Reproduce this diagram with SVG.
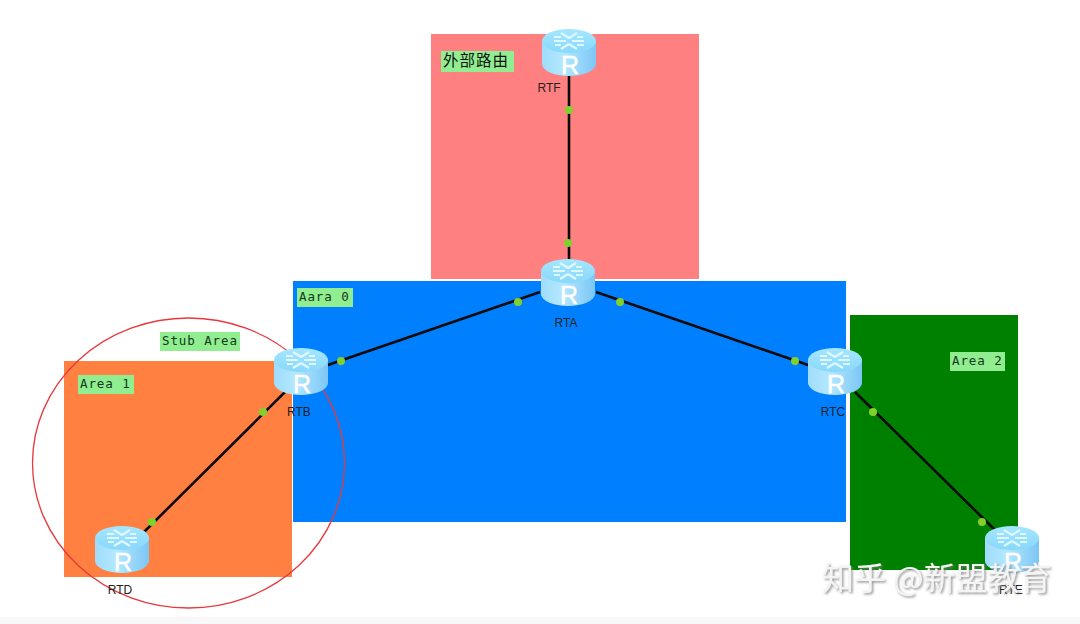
<svg xmlns="http://www.w3.org/2000/svg" width="1080" height="624" viewBox="0 0 1080 624">
<defs>
<linearGradient id="body" x1="0" y1="0" x2="1" y2="0">
<stop offset="0" stop-color="#9fdcfb"/><stop offset="0.4" stop-color="#b4e8ff"/><stop offset="1" stop-color="#7cc6f5"/>
</linearGradient>
<linearGradient id="top" x1="0" y1="0" x2="0" y2="1">
<stop offset="0" stop-color="#a6e6ff"/><stop offset="1" stop-color="#88d8fb"/>
</linearGradient>
<filter id="shadow" x="-5%" y="-20%" width="110%" height="140%"><feDropShadow dx="1.500" dy="1.500" stdDeviation="0.800" flood-color="#777" flood-opacity="0.800"/></filter>
<g id="router">
<path d="M-27,-11 V12 A27,12 0 0 0 27,12 V-11 Z" fill="url(#body)"/>
<ellipse cx="0" cy="-11" rx="27" ry="12" fill="url(#top)"/>
<path d="M-15,-11 L-3,-11 M3,-11 L15,-11 M-8,-19 L0,-14 M8,-3 L0,-8 M8,-19 L0,-14 M-8,-3 L0,-8 M-15,-15 L-8,-15 M8,-7 L15,-7 M8,-15 L14,-15 M-14,-7 L-8,-7" stroke="#dff7ff" stroke-width="2.200" fill="none"/>
<text x="1" y="22" class="r">R</text>
</g>
</defs>
<style>
.lab{font-family:"DejaVu Sans Mono","Liberation Mono",monospace;font-size:12.500px;letter-spacing:0.900px;fill:#14381a}
.name{font-family:"Liberation Sans",Arial,sans-serif;font-size:12px;fill:#222;text-anchor:middle}
.r{font-family:"Liberation Sans",Arial,sans-serif;font-size:25px;fill:#fff;stroke:#fff;stroke-width:0.500;text-anchor:middle}
.tag{fill:#90ee90}
.link{stroke:#0a0a0a;stroke-width:2.600;fill:none}
.dot{fill:#82d02c}
.wm{font-family:"Noto Sans CJK SC",sans-serif;font-size:32px;fill:#f4f4f4;filter:url(#shadow)}
</style>
<rect width="1080" height="624" fill="#fff"/>
<rect y="617" width="1080" height="7" fill="#f8f8f8"/>
<g id="areas">
<rect x="431" y="34" width="268" height="245" fill="#ff8080"/>
<rect x="293" y="281" width="553" height="241" fill="#0080ff"/>
<rect x="64" y="361" width="228" height="216" fill="#ff8040"/>
<rect x="850" y="315" width="168" height="255" fill="#008000"/>
<ellipse id="stub-circle" cx="188.500" cy="463" rx="156" ry="145" fill="none" stroke="#e8383c" stroke-width="1.300"/>
</g>
<g id="connectors">
<path class="link" d="M569,70 L569,264"/>
<path class="link" d="M540,292 L325,366"/>
<path class="link" d="M596,292 L811,366"/>
<path class="link" d="M285,392 L140,536"/>
<path class="link" d="M855,392 L995,530"/>
<circle class="dot" cx="569" cy="110" r="4"/>
<circle class="dot" cx="568" cy="243" r="4"/>
<circle class="dot" cx="518" cy="302" r="4"/>
<circle class="dot" cx="620" cy="302" r="4"/>
<circle class="dot" cx="341" cy="361" r="4"/>
<circle class="dot" cx="795" cy="361" r="4"/>
<circle class="dot" cx="263" cy="412" r="4"/>
<circle class="dot" cx="152" cy="522" r="4"/>
<circle class="dot" cx="873" cy="412" r="4"/>
<circle class="dot" cx="982" cy="522" r="4"/>
</g>
<g id="label-external"><rect class="tag" x="441" y="51" width="73" height="21"/><text x="443" y="66" font-family="Noto Sans CJK SC,sans-serif" font-size="15.500" letter-spacing="1" fill="#111">外部路由</text></g>
<g id="label-area0"><rect class="tag" x="297" y="288" width="56" height="19"/><text class="lab" x="299" y="301">Aara 0</text></g>
<g id="label-stub"><rect class="tag" x="160" y="332" width="80" height="19"/><text class="lab" x="162" y="345">Stub Area</text></g>
<g id="label-area1"><rect class="tag" x="78" y="375" width="56" height="19"/><text class="lab" x="80" y="388">Area 1</text></g>
<g id="label-area2"><rect class="tag" x="950" y="352" width="55" height="19"/><text class="lab" x="952" y="365">Area 2</text></g>
<g id="node-rtf"><use href="#router" x="569" y="52"/><text class="name" x="549" y="92">RTF</text></g>
<g id="node-rta"><use href="#router" x="568" y="282"/><text class="name" x="566" y="327">RTA</text></g>
<g id="node-rtb"><use href="#router" x="301" y="371"/><text class="name" x="299" y="416">RTB</text></g>
<g id="node-rtc"><use href="#router" x="835" y="371"/><text class="name" x="833" y="416">RTC</text></g>
<g id="node-rtd"><use href="#router" x="122" y="549"/><text class="name" x="120" y="594">RTD</text></g>
<g id="node-rte"><use href="#router" x="1012" y="549"/><text class="name" x="1011" y="594">RTE</text></g>
<text id="watermark" class="wm" x="822" y="590">知乎 @新盟教育</text>
</svg>
